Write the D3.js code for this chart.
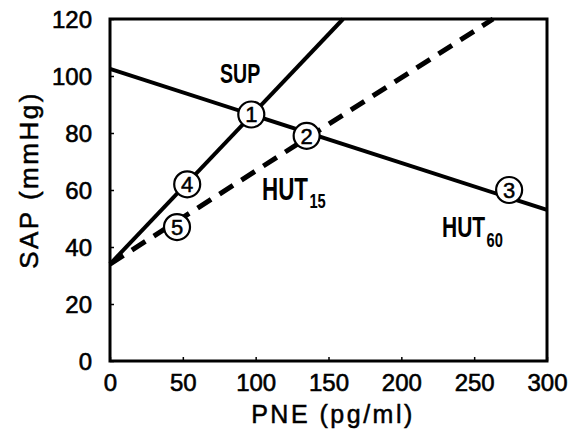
<!DOCTYPE html>
<html>
<head>
<meta charset="utf-8">
<script src="https://cdn.jsdelivr.net/npm/d3@7"></script>
<style>
  body { margin: 0; background: #fff; }
  text { font-family: "Liberation Sans", Arial, sans-serif; fill: #000; }
</style>
</head>
<body>
<svg id="chart" width="572" height="434"></svg>
<script>
// regression lines, [PNE, SAP] endpoints
var hut60Line = [[0, 102.5], [300, 53]];
var supLine = [[0, 34], [160, 120]];
var hut15Line = [[0, 34], [263, 120]];

// numbered points
var markerLabels = ["1", "2", "3", "4", "5"];
var markerX = [97, 135, 274, 53, 46];
var markerY = [86.5, 79, 60, 62, 47];

var xTicks = [0, 50, 100, 150, 200, 250, 300];
var yTicks = [0, 20, 40, 60, 80, 100, 120];

var svg = d3.select("#chart"),
  mLeft = 110, mRight = 547, mTop = 19, mBottom = 361;

var x = d3.scaleLinear().domain([0, 300]).range([mLeft, mRight]);
var y = d3.scaleLinear().domain([0, 120]).range([mBottom, mTop]);

var line = d3.line()
  .x(function (d) { return x(d[0]); })
  .y(function (d) { return y(d[1]); });

// frame
svg.append("rect")
  .attr("x", mLeft).attr("y", mTop)
  .attr("width", mRight - mLeft).attr("height", mBottom - mTop)
  .attr("fill", "none").attr("stroke", "#000").attr("stroke-width", 3);

// axes, ticks pointing inward
var xAxis = svg.append("g")
  .attr("transform", "translate(0," + mBottom + ")")
  .call(d3.axisBottom(x).tickValues(xTicks).tickSizeInner(-4).tickSizeOuter(0).tickPadding(13));
var yAxis = svg.append("g")
  .attr("transform", "translate(" + mLeft + ",0)")
  .call(d3.axisLeft(y).tickValues(yTicks).tickSizeInner(-4).tickSizeOuter(0).tickPadding(18));

[xAxis, yAxis].forEach(function (a) {
  a.select(".domain").remove();
  a.selectAll("line").attr("stroke", "#000").attr("stroke-width", 1.5);
  a.selectAll("text")
    .style("font-family", "'Liberation Sans', Arial, sans-serif")
    .style("font-size", "24px")
    .attr("stroke", "#000").attr("stroke-width", 0.6);
});
yAxis.selectAll("text").attr("dy", "0.36em");

// lines
svg.append("path").datum(hut60Line).attr("d", line)
  .attr("fill", "none").attr("stroke", "#000").attr("stroke-width", 4);
svg.append("path").datum(supLine).attr("d", line)
  .attr("fill", "none").attr("stroke", "#000").attr("stroke-width", 4);
svg.append("path").datum(hut15Line).attr("d", line)
  .attr("fill", "none").attr("stroke", "#000").attr("stroke-width", 5)
  .attr("stroke-dasharray", "16,10");

// numbered markers
var marks = svg.append("g").selectAll("g")
  .data(markerLabels)
  .enter()
  .append("g")
  .attr("transform", function (d, i) {
    return "translate(" + x(markerX[i]) + "," + y(markerY[i]) + ")";
  });
marks.append("circle").attr("r", 13)
  .attr("fill", "#fff").attr("stroke", "#000").attr("stroke-width", 2.2);
marks.append("text")
  .attr("text-anchor", "middle").attr("dy", "0.36em")
  .style("font-size", "22px")
  .attr("stroke", "#000").attr("stroke-width", 0.5)
  .text(function (d) { return d; });

// series labels, condensed via horizontal scale
function seriesLabel(px, py, size, main, sub, subDy) {
  var t = svg.append("text")
    .attr("transform", "translate(" + px + "," + py + ") scale(0.7,1)")
    .style("font-weight", "bold").style("font-size", size + "px");
  t.append("tspan").text(main);
  if (sub) t.append("tspan").attr("dx", 2).attr("dy", subDy).style("font-size", "21px").text(sub);
}
seriesLabel(220, 83, 28, "SUP");
seriesLabel(262, 200, 32, "HUT", "15", 8);
seriesLabel(442, 237, 30, "HUT", "60", 10);

// axis titles
svg.append("text").attr("x", 333).attr("y", 423)
  .attr("text-anchor", "middle").style("font-size", "25px")
  .style("letter-spacing", "2.5px")
  .attr("stroke", "#000").attr("stroke-width", 0.5)
  .text("PNE (pg/ml)");
svg.append("text")
  .attr("transform", "translate(38,180) rotate(-90)")
  .attr("text-anchor", "middle").style("font-size", "26px")
  .style("letter-spacing", "2.5px")
  .attr("stroke", "#000").attr("stroke-width", 0.5)
  .text("SAP (mmHg)");
</script>
</body>
</html>
